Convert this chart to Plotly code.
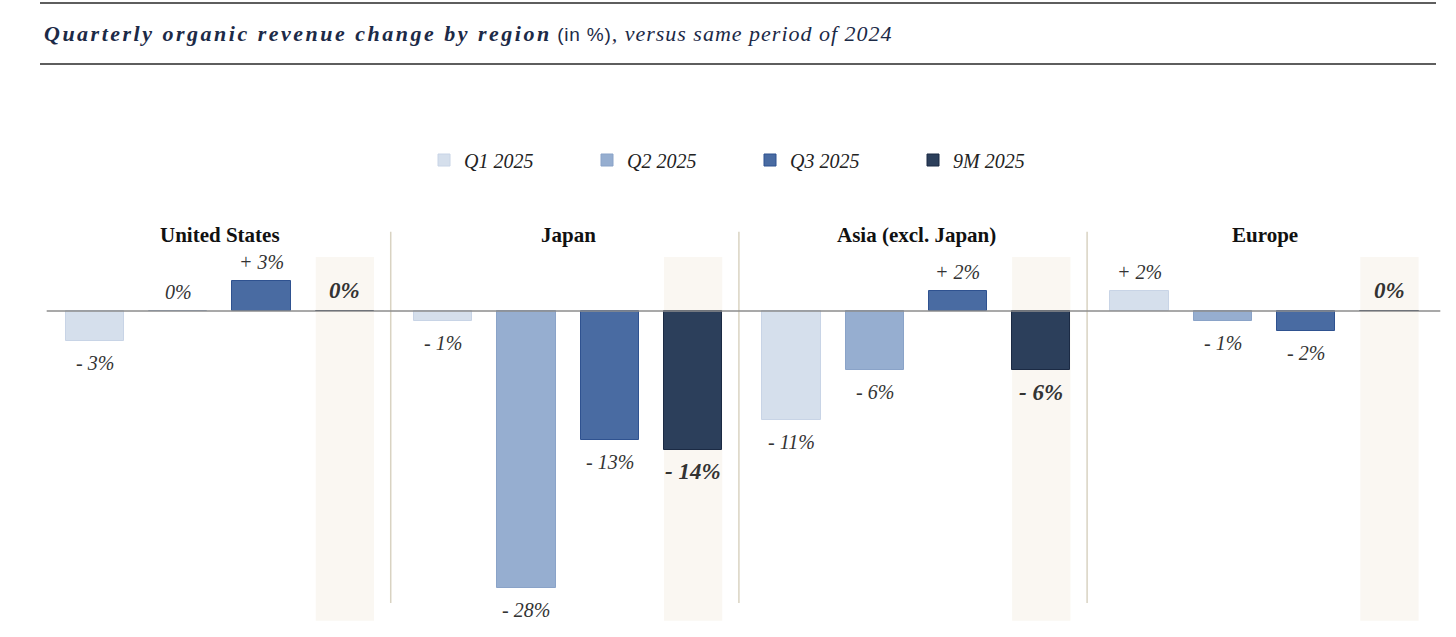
import plotly.graph_objects as go

# data
regions = ["United States", "Japan", "Asia (excl. Japan)", "Europe"]
series = ["Q1 2025", "Q2 2025", "Q3 2025", "9M 2025"]
q1 = [-3, -1, -11, 2]
q2 = [0, -28, -6, -1]
q3 = [3, -13, 2, -2]
m9 = [0, -14, -6, 0]
values = [q1, q2, q3, m9]

colors = ["#d5dfec", "#96aed0", "#496ba2", "#2c3f5b"]
edges = ["#c8d4e6", "#8aa3c8", "#2f5290", "#1b2a44"]

GROUP_STEP = 4.18
BAR_W = 0.7
SERIF = "Liberation Serif, Times New Roman, serif"
SANS = "Liberation Sans, Arial, sans-serif"
W, H = 1456, 637
PX_X0, PX_PER_X = 95, 83.3     # pixel of first bar center, pixels per unit
PX_Y0, PX_PER_Y = 311, 9.9     # pixel of zero line, pixels per %


def pos(i):
    return [g * GROUP_STEP + i for g in range(len(regions))]


def fmt(v):
    if v > 0:
        return f"+ {v}%"
    if v < 0:
        return f"- {abs(v)}%"
    return "0%"


fig = go.Figure()

for i, name in enumerate(series):
    fig.add_trace(go.Bar(
        x=pos(i), y=values[i], width=BAR_W, name=name,
        marker=dict(color=colors[i], line=dict(color=edges[i], width=1)),
        hoverinfo="skip",
    ))

shapes = []
# light shading behind the 9M column
for x in pos(3):
    shapes.append(dict(type="rect", xref="x", yref="y", layer="below",
                       x0=x - BAR_W / 2, x1=x + BAR_W / 2, y0=-31.3, y1=5.45,
                       fillcolor="#faf7f2", line=dict(width=0)))
# separators between regions
for g in range(len(regions) - 1):
    xs = g * GROUP_STEP + 3.55
    shapes.append(dict(type="line", xref="x", yref="y", layer="below",
                       x0=xs, x1=xs, y0=-29.5, y1=8.0,
                       line=dict(color="#d9d3c2", width=1.5)))
# zero line
shapes.append(dict(type="line", xref="x", yref="y", layer="above",
                   x0=-0.58, x1=16.15, y0=0, y1=0,
                   line=dict(color="#8c8c8c", width=1.5)))
# title rules
for yp in [3, 64]:
    shapes.append(dict(type="line", xref="paper", yref="paper",
                       x0=40 / W, x1=1436 / W, y0=1 - yp / H, y1=1 - yp / H,
                       line=dict(color="#5e5e5e", width=2)))

annotations = []
for i in range(len(series)):
    big = i == 3
    for x, v in zip(pos(i), values[i]):
        shift = -22 if v < 0 else (21 if big and v == 0 else 19)
        txt = fmt(v)
        if big:
            txt = f"<b><i>{txt}</i></b>"
        else:
            txt = f"<i>{txt}</i>"
        annotations.append(dict(
            x=x, y=v, xref="x", yref="y", text=txt, showarrow=False,
            yshift=shift, yanchor="middle", xanchor="center",
            font=dict(family=SERIF, size=23 if big else 20, color="#333333"),
        ))

for g, reg in enumerate(regions):
    annotations.append(dict(
        x=g * GROUP_STEP + 1.5, y=1 - 235 / H, xref="x", yref="paper",
        text=f"<b>{reg}</b>", showarrow=False, yanchor="middle",
        font=dict(family=SERIF, size=21, color="#111111"),
    ))

annotations.append(dict(
    x=42 / W, y=1 - 33 / H, xref="paper", yref="paper", xanchor="left",
    yanchor="middle", showarrow=False,
    text="<span style='letter-spacing:2.5px'><b><i>Quarterly organic revenue change by region</i></b></span> "
         f"<span style='font-family:{SANS};font-size:19px;letter-spacing:0.8px'>(in %)</span>"
         "<span style='letter-spacing:1px'><i>, versus same period of 2024</i></span>",
    font=dict(family=SERIF, size=22, color="#1c2a47"),
))

fig.update_layout(
    width=W, height=H, margin=dict(l=0, r=0, t=0, b=0),
    plot_bgcolor="white", paper_bgcolor="white",
    barmode="overlay", bargap=0,
    xaxis=dict(range=[-PX_X0 / PX_PER_X, (W - PX_X0) / PX_PER_X],
               visible=False, fixedrange=True),
    yaxis=dict(range=[-(H - PX_Y0) / PX_PER_Y, PX_Y0 / PX_PER_Y],
               visible=False, fixedrange=True),
    showlegend=True,
    legend=dict(orientation="h", x=424 / W, y=1 - 160 / H, yanchor="middle",
                xanchor="left", entrywidth=118, entrywidthmode="pixels",
                font=dict(family=SERIF, size=20, color="#222222", style="italic"),
                bgcolor="rgba(0,0,0,0)", itemclick=False, itemdoubleclick=False),
    shapes=shapes, annotations=annotations,
)

fig.write_html("out.html", config={"displayModeBar": False},
               post_script="document.body.style.margin='0';")
